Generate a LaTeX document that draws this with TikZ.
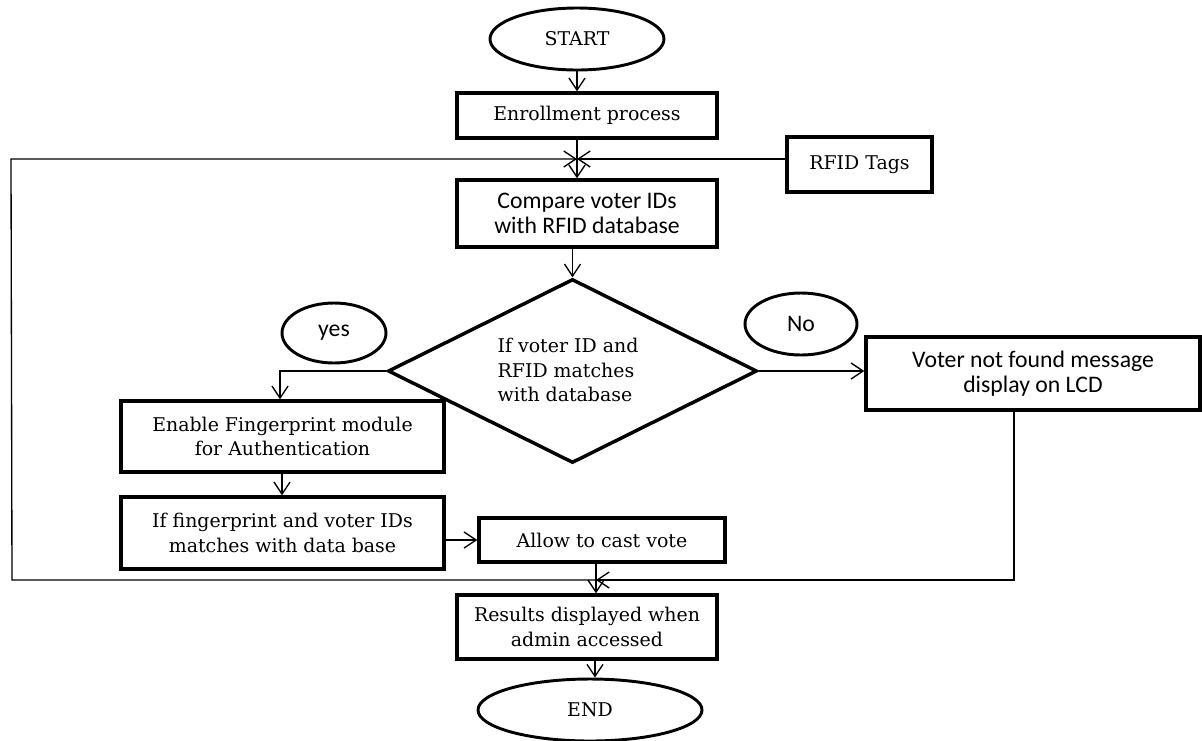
\documentclass[tikz,border=0pt]{standalone}
\usepackage{fontspec}
\setmainfont{DejaVu Serif}
\newfontfamily\calib{Carlito}
\usetikzlibrary{shapes.geometric,arrows.meta}
\begin{document}
\begin{tikzpicture}[x=0.75pt,y=-0.75pt,
  box/.style={draw,line width=2.6pt,rectangle,inner sep=0pt,align=center},
  oval/.style={draw,line width=2.2pt,ellipse,inner sep=0pt},
  sertxt/.style={font=\fontsize{14.2}{18.5}\selectfont},
  santxt/.style={font=\calib\fontsize{17.8}{19}\selectfont},
  conn/.style={line width=1pt},
  arr/.style={line width=1pt,-{Straight Barb[length=9pt,width=12pt,line width=1pt]}}]
\useasboundingbox (0,0) rectangle (1202,740);
% nodes
\node[oval,sertxt,minimum width=130.5pt,minimum height=46.5pt] (start) at (577,39) {START};
\node[box,sertxt,minimum width=195pt,minimum height=33.75pt] (enroll) at (587,115.5) {Enrollment process};
\node[box,sertxt,minimum width=108.75pt,minimum height=41.25pt] (rfid) at (859.5,164.5) {RFID Tags};
\node[box,santxt,minimum width=195pt,minimum height=50.25pt] (compare) at (587,213.5) {Compare voter IDs\\with RFID database};
\node[draw,diamond,line width=2.6pt,inner sep=0pt,aspect=2,minimum width=276.75pt,minimum height=138pt] (dia) at (572.5,371) {};
\node[sertxt,align=left] (diatxt) at (568,370) {If voter ID and\\RFID matches\\with database};
\node[oval,santxt,minimum width=78pt,minimum height=45pt] (yes) at (334,333) {yes};
\node[oval,santxt,minimum width=84pt,minimum height=46.5pt] (no) at (801,324) {No};
\node[box,sertxt,minimum width=242.25pt,minimum height=53.25pt] (enable) at (282.5,436.5) {Enable Fingerprint module\\for Authentication};
\node[box,sertxt,minimum width=242.25pt,minimum height=54pt] (fing) at (282.5,533) {If fingerprint and voter IDs\\matches with data base};
\node[box,sertxt,minimum width=184.5pt,minimum height=33pt] (allow) at (602,540) {Allow to cast vote};
\node[box,santxt,minimum width=250.5pt,minimum height=54.75pt] (voter) at (1033,373.5) {Voter not found message\\display on LCD};
\node[box,sertxt,minimum width=195pt,minimum height=48pt] (results) at (587,627) {Results displayed when\\admin accessed};
\node[oval,sertxt,minimum width=168pt,minimum height=46.5pt] (end) at (590,710) {END};
% junctions
\coordinate (j1) at (577,159);
\coordinate (j2) at (596,580);
\coordinate (lt) at (11,159);
\coordinate (lb) at (12,580);
\coordinate (rv) at (1014,580);
% connectors
\draw[arr] (start.south) -- (start.south |- enroll.north);
\draw[arr] (enroll.south -| j1) -- (compare.north -| j1);
\draw[arr] (rfid.west |- j1) -- (j1);
\draw[arr] (j2) -- (lb) -- (lt) -- (j1);
\draw[arr] (dia.north |- compare.south) -- (dia.north);
\draw[arr] (dia.west) -| (280,0 |- enable.north);
\draw[arr] (enable.south -| 282,0) -- (fing.north -| 282,0);
\draw[arr] (fing.east |- allow.west) -- (allow.west);
\draw[arr] (dia.east) -- (voter.west |- dia.east);
\draw[arr] (allow.south -| j2) -- (results.north -| j2);
\draw[arr] (voter.south -| rv) -- (rv) -- (j2);
\draw[arr] (results.south -| 595,0) -- (end.north -| 595,0);
\end{tikzpicture}
\end{document}
